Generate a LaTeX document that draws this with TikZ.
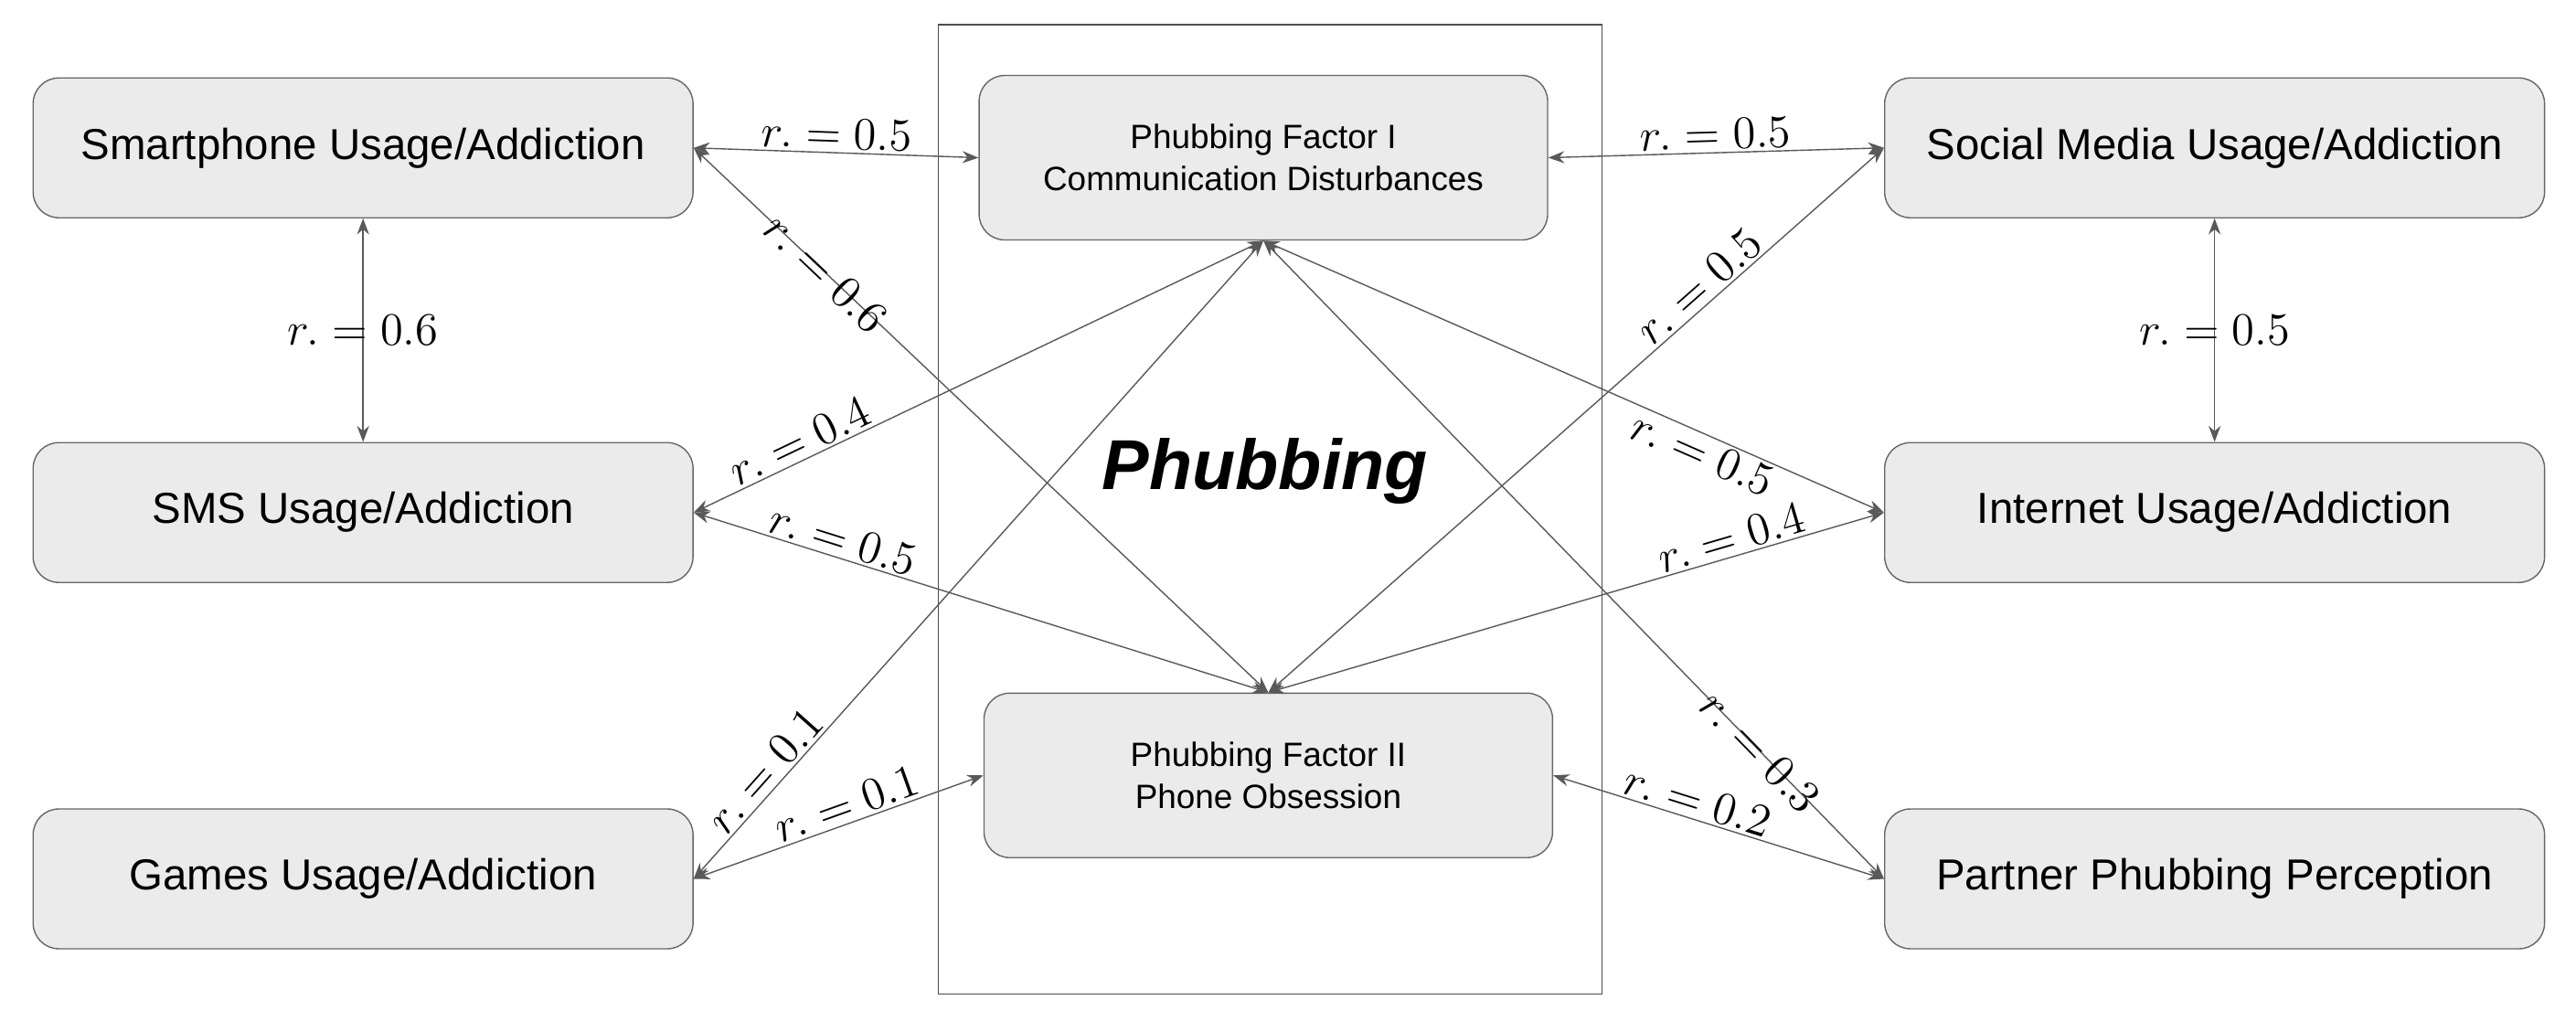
\documentclass[tikz,border=0pt]{standalone}
\usepackage{fontspec}
\setmainfont{Liberation Sans}
\usetikzlibrary{arrows.meta,positioning}
\tikzset{
    box/.style={draw=black!60, fill=black!8, rounded corners=8pt, minimum width=7.22cm, minimum height=1.53cm, font=\fontsize{13.5}{15}\selectfont},
    fbox/.style={draw=black!60, fill=black!8, rounded corners=8pt, minimum width=6.22cm, minimum height=1.8cm, font=\fontsize{10.5}{13}\selectfont, align=center},
    link/.style={{Stealth[length=5pt]}-{Stealth[length=5pt]}, black!65, thin},
    rlab/.style={font=\fontsize{15}{17}\selectfont, text=black, sloped, inner sep=1pt},
    vlab/.style={font=\fontsize{15}{17}\selectfont, text=black, inner sep=1pt}
}
\begin{document}
\begin{tikzpicture}[x=0.01797cm, y=-0.01797cm]
    \useasboundingbox (0,0) rectangle (1568,621);

    % Frame
    \draw[black!70] (571,15) rectangle (975,605);
    \node[font=\fontsize{22}{24}\selectfont\bfseries\itshape] (phub) at (770,287) {Phubbing};

    % Left column
    \node[box] (sp) at (221,90) {Smartphone Usage/Addiction};
    \node[box] (sms) at (221,312) {SMS Usage/Addiction};
    \node[box] (gm) at (221,535) {Games Usage/Addiction};

    % Right column
    \node[box] (sm) at (1348,90) {Social Media Usage/Addiction};
    \node[box] (inet) at (1348,312) {Internet Usage/Addiction};
    \node[box] (pp) at (1348,535) {Partner Phubbing Perception};

    % Factors
    \node[fbox] (f1) at (769,96) {Phubbing Factor I\\Communication Disturbances};
    \node[fbox] (f2) at (772,472) {Phubbing Factor II\\Phone Obsession};

    % Links
    \draw[link] (sp.east) -- node[rlab, above] {$r. = 0.5$} (f1.west);
    \draw[link] (sp.south) -- node[vlab] {$r. = 0.6$} (sms.north);
    \draw[link] (sp.east) -- node[rlab, pos=0.23] {$r. = 0.6$} (f2.north);
    \draw[link] (sms.east) -- node[rlab, above, pos=0.2] {$r. = 0.4$} (f1.south);
    \draw[link] (sms.east) -- node[rlab, above, pos=0.25] {$r. = 0.5$} (f2.north);
    \draw[link] (gm.east) -- node[rlab, above, pos=0.15] {$r. = 0.1$} (f1.south);
    \draw[link] (gm.east) -- node[rlab, above, pos=0.55] {$r. = 0.1$} (f2.west);
    \draw[link] (f1.east) -- node[rlab, above] {$r. = 0.5$} (sm.west);
    \draw[link] (f1.south) -- node[rlab, below, pos=0.72] {$r. = 0.5$} (inet.west);
    \draw[link] (f1.south) -- node[rlab, pos=0.8] {$r. = 0.3$} (pp.west);
    \draw[link] (f2.north) -- node[rlab, above, pos=0.72] {$r. = 0.5$} (sm.west);
    \draw[link] (f2.north) -- node[rlab, above, pos=0.76] {$r. = 0.4$} (inet.west);
    \draw[link] (f2.east) -- node[rlab, above, pos=0.42] {$r. = 0.2$} (pp.west);
    \draw[link] (sm.south) -- node[vlab] {$r. = 0.5$} (inet.north);
\end{tikzpicture}
\end{document}
